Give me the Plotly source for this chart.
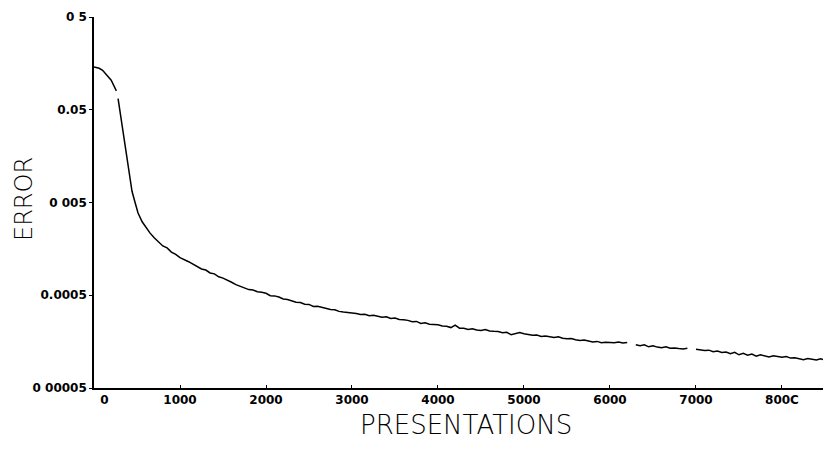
import plotly.graph_objects as go

# ---- data ----
presentations = [0, 30, 60, 100, 130, 160, 200, 230, 260, 270, 280, 300, 320, 340, 384, 442, 480, 512,
                 560, 600, 650, 700, 750, 800, 850, 900, 950, 1000, 1100, 1200,
                 1250, 1300, 1350, 1400, 1450, 1500, 1550, 1600, 1650, 1700, 1750, 1800, 1850, 1900, 1950,
                 2000, 2050, 2100, 2150, 2200, 2250, 2300, 2350, 2400, 2450, 2500, 2550, 2600, 2650, 2700,
                 2750, 2800, 2850, 2900, 2950, 3000, 3050, 3100, 3150, 3200, 3250, 3300, 3350, 3400, 3450,
                 3500, 3550, 3600, 3650, 3700, 3750, 3800, 3850, 3900, 3950, 4000, 4050, 4100, 4150, 4200,
                 4250, 4300, 4350, 4400, 4450, 4500, 4550, 4600, 4650, 4700, 4750, 4800, 4850, 4900, 4950,
                 5000, 5050, 5100, 5150, 5200, 5250, 5300, 5350, 5400, 5450, 5500, 5550, 5600, 5650, 5700,
                 5750, 5800, 5850, 5900, 5950, 6000, 6050, 6100, 6150, 6200, 6250, 6300, 6350, 6400, 6450,
                 6500, 6550, 6600, 6650, 6700, 6750, 6800, 6850, 6900, 6950, 7000, 7050, 7100, 7150, 7200,
                 7250, 7300, 7350, 7400, 7450, 7500, 7550, 7600, 7650, 7700, 7750, 7800, 7850, 7900, 7950,
                 8000, 8050, 8100, 8150, 8200, 8250, 8300, 8350, 8400, 8450, 8500, 8550]

error = [0.145, 0.1435, 0.140, 0.133, 0.125, 0.115, 0.104, 0.092, 0.080, None, 0.066, 0.049, 0.036, 0.028,
         0.0144, 0.0066, 0.0049, 0.00385, 0.0031, 0.0027, 0.00235, 0.00208, 0.00188, 0.00170, 0.00162,
         0.00146, 0.00138, 0.00127, 0.00115, 0.00102,
         0.000960, 0.000935, 0.000870, 0.000850, 0.000790, 0.000765, 0.000730, 0.000690, 0.000650,
         0.000625, 0.000600, 0.000575, 0.000570, 0.000545, 0.000538,
         0.000525, 0.000495, 0.000492, 0.000478, 0.000455, 0.000450, 0.000438, 0.000420, 0.000418,
         0.000400, 0.000398, 0.000378, 0.000381, 0.000370, 0.000356,
         0.000352, 0.000349, 0.000335, 0.000330, 0.000328, 0.000322, 0.000318, 0.000311, 0.000312,
         0.000301, 0.000304, 0.000298, 0.000290, 0.000293, 0.000281,
         0.000284, 0.000274, 0.000272, 0.000268, 0.000259, 0.000261, 0.000248, 0.000253, 0.000244,
         0.000242, 0.000240, 0.000233, 0.000231, 0.000224, 0.000238,
         0.000221, 0.000220, 0.000214, 0.000218, 0.000211, 0.000209, 0.000214, 0.000206, 0.000204,
         0.000203, 0.000197, 0.000199, 0.000188, 0.000194, 0.000198,
         0.000192, 0.000189, 0.000185, 0.000186, 0.000180, 0.000182, 0.000178, 0.000175, 0.000178,
         0.000172, 0.000170, 0.000171, 0.000166, 0.000163, 0.000165,
         0.000161, 0.000157, 0.000159, 0.000154, 0.000156, 0.000156, 0.000154, 0.000157, 0.000153,
         0.000155, None, 0.000146, 0.000143, 0.000146, 0.000139,
         0.000143, 0.000138, 0.000136, 0.000139, 0.000134, 0.000135, 0.000133, 0.000132, 0.000134,
         None, 0.000131, 0.000129, 0.000127, 0.000128, 0.000123,
         0.000125, 0.000121, 0.000122, 0.000117, 0.000121, 0.000114, 0.000118, 0.000113, 0.000116,
         0.000110, 0.000114, 0.000111, 0.000108, 0.000111, 0.000109,
         0.000107, 0.000109, 0.000105, 0.000106, 0.000104, 0.000101, 0.000104, 0.000102, 0.000100,
         0.000103, 0.000100, 0.000101]

x_tick_vals = [0, 1000, 2000, 3000, 4000, 5000, 6000, 7000, 8000]
x_tick_text = ["\u00a0\u00a0\u00a0\u00a0\u00a00", "1000", "2000", "3000", "4000",
               "5000", "6000", "7000", "800C"]
y_tick_vals = [0.5, 0.05, 0.005, 0.0005, 0.00005]
y_tick_text = ["0 5", "0.05", "0 005", "0.0005", "0 00005"]

fig = go.Figure()
fig.add_trace(go.Scatter(x=presentations, y=error, mode="lines",
                         line=dict(color="black", width=1.5), connectgaps=False,
                         hoverinfo="skip", showlegend=False))

tick_font = dict(family="DejaVu Sans", size=12, color="black", weight="bold")
fig.update_layout(
    width=823, height=445,
    margin=dict(l=86, r=0, t=9, b=65, autoexpand=False),
    paper_bgcolor="white", plot_bgcolor="white",
    xaxis=dict(range=[0, 8570], tickvals=x_tick_vals, ticktext=x_tick_text, automargin=False,
               showgrid=False, zeroline=False, showline=True, linecolor="black", linewidth=1.6,
               ticks="inside", ticklen=3, tickcolor="black", tickfont=tick_font),
    yaxis=dict(type="log", range=[-4.30103, -0.30103], tickvals=y_tick_vals, ticktext=y_tick_text,
               automargin=False,
               showgrid=False, zeroline=False, showline=True, linecolor="black", linewidth=1.6,
               ticks="outside", ticklen=3, tickcolor="black", tickfont=tick_font),
    annotations=[
        dict(text="PRESENTATIONS", xref="paper", yref="paper", x=0.505, y=(388 - 425) / 371,
             xanchor="center", yanchor="middle", showarrow=False,
             font=dict(family="DejaVu Sans", size=26, color="black", weight=200)),
        dict(text="ERROR", xref="paper", yref="paper", x=(24 - 94) / 737, y=(388 - 199) / 371,
             textangle=-90, xanchor="center", yanchor="middle", showarrow=False,
             font=dict(family="DejaVu Sans", size=24, color="black", weight=200)),
    ],
)
fig.write_html("out.html")
